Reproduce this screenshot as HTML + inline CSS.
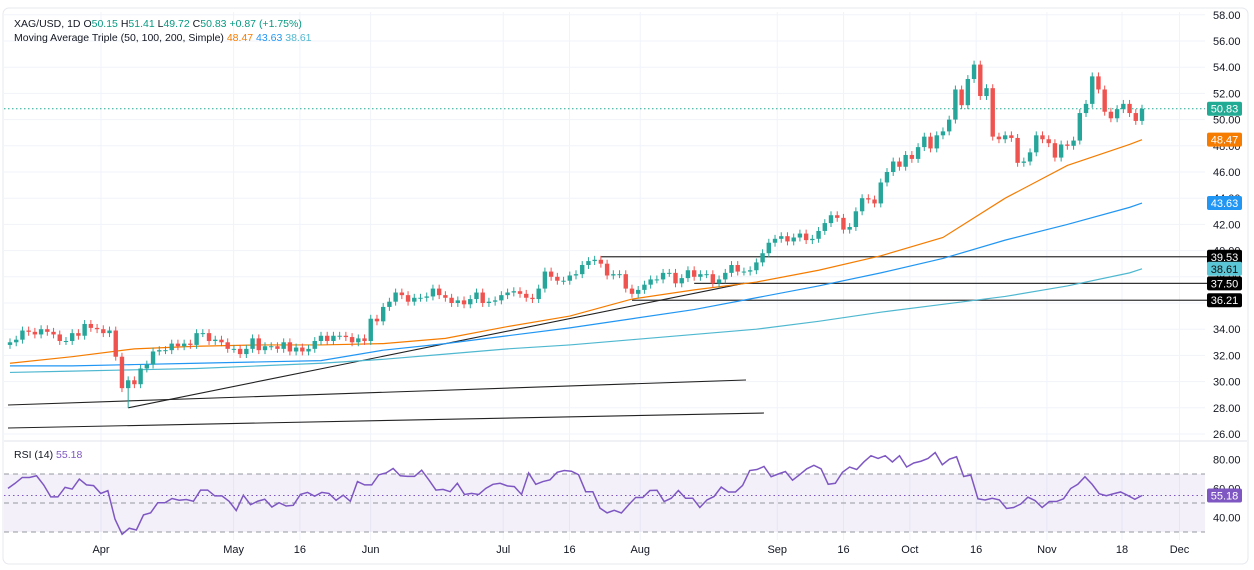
<!DOCTYPE html>
<html><head><meta charset="utf-8"><style>
html,body{margin:0;padding:0;background:#fff;width:1254px;height:570px;overflow:hidden;font-family:"Liberation Sans",sans-serif}
svg text{font-family:"Liberation Sans",sans-serif}
</style></head><body>
<svg id="chart" width="1254" height="570" viewBox="0 0 1254 570" xmlns="http://www.w3.org/2000/svg">
<rect x="3" y="8" width="1245" height="556" rx="6" fill="#fff" stroke="#e6e8ee"/>
<g id="grid"></g>
<g id="rsiBg"></g>
<g id="lines"></g>
<g id="candles"></g>
<g id="rsi"></g>
<g id="axis"></g>
<g id="tags"></g>
<text x="14" y="27" font-size="10.5" fill="#131722">XAG/USD, 1D <tspan fill="#131722">O</tspan><tspan fill="#089981">50.15</tspan> <tspan fill="#131722">H</tspan><tspan fill="#089981">51.41</tspan> <tspan fill="#131722">L</tspan><tspan fill="#089981">49.72</tspan> <tspan fill="#131722">C</tspan><tspan fill="#089981">50.83</tspan> <tspan fill="#089981">+0.87 (+1.75%)</tspan></text>
<text x="14" y="41" font-size="10.5" fill="#131722">Moving Average Triple (50, 100, 200, Simple) <tspan fill="#f57c00">48.47</tspan> <tspan fill="#2196f3">43.63</tspan> <tspan fill="#4fb8d0">38.61</tspan></text>
<text x="14" y="458" font-size="10.5" fill="#131722">RSI (14) <tspan fill="#7e57c2">55.18</tspan></text>
</svg>
<script>
const closes=[33.0,33.2,33.9,33.8,33.6,34.0,33.8,33.6,33.1,33.1,33.7,33.5,34.4,34.1,34.0,33.7,33.9,31.9,29.5,30.1,29.8,31.0,31.3,32.3,32.4,32.4,32.9,32.7,32.9,32.8,33.7,33.7,33.1,33.2,33.0,32.5,32.5,32.1,32.5,33.3,32.4,32.7,32.7,32.5,33.0,32.3,32.6,32.3,32.5,33.1,33.5,33.1,33.5,33.5,33.4,33.0,33.3,33.1,34.8,34.6,
35.7,36.1,36.8,36.6,36.1,36.4,36.4,36.5,37.1,36.6,36.4,36.0,36.2,35.9,36.3,36.8,36.0,36.1,36.2,36.6,36.8,36.9,36.7,36.4,36.3,37.1,38.4,38.0,37.7,37.7,38.1,38.2,38.9,39.2,39.3,39.0,38.1,38.2,38.2,37.1,36.7,37.0,37.4,37.8,37.8,38.3,38.3,37.5,37.9,38.5,38.0,38.2,38.2,37.5,37.8,38.3,38.9,38.4,38.4,38.5,39.1,39.8,40.6,40.9,41.1,40.7,41.0,41.3,40.8,40.9,41.5,42.1,42.7,42.5,41.6,41.8,43.0,44.0,43.9,43.6,45.2,46.0,46.8,46.4,47.3,47.0,47.9,48.7,47.8,48.8,49.1,50.0,52.3,51.1,53.1,54.2,51.8,52.4,48.7,48.5,48.8,48.6,46.7,46.8,47.5,48.8,48.5,48.2,47.1,48.1,48.0,48.4,50.5,51.2,53.3,52.3,50.6,50.1,50.8,51.2,50.5,49.9,50.83];
const firstOpen=32.8;
const ma50=[31.4,31.9,32.5,32.7,32.8,32.8,32.9,33.3,34.2,35.0,36.3,37.0,37.6,38.5,39.6,41.0,44.0,46.5,48.1,48.47];
const ma100=[31.2,31.2,31.3,31.4,31.5,31.6,32.4,32.9,33.5,34.1,34.8,35.5,36.4,37.3,38.3,39.4,40.8,42.0,43.3,43.63];
const ma200=[30.7,30.8,30.9,31.0,31.2,31.4,31.7,32.1,32.5,32.8,33.2,33.6,34.0,34.6,35.3,35.9,36.5,37.3,38.3,38.61];
const maIdx=[0,10,20,30,40,50,60,70,80,90,100,110,120,130,140,150,160,170,180,182];
const rsiVals=[60.1,63.6,67.6,67.6,68.8,62.5,54.2,54.2,60.8,59.6,66.5,62.5,62.0,56.6,58.5,38.9,28.4,32.6,31.4,41.8,43.2,50.2,50.2,53.1,51.9,52.4,51.2,58.9,58.9,54.9,54.9,51.2,44.8,55.4,48.8,51.2,52.6,47.2,50.2,47.9,48.4,55.9,57.3,54.7,57.3,56.6,51.9,55.4,51.2,64.8,62.5,62.5,69.5,70.7,73.8,68.8,68.4,68.4,72.6,66.0,58.9,59.4,57.8,63.6,55.9,56.6,55.9,60.1,62.9,63.6,61.8,61.3,55.9,70.7,62.9,64.8,66.0,71.2,72.4,71.9,69.5,57.8,57.8,46.5,43.2,45.0,43.1,48.6,53.8,53.8,58.6,58.8,51.0,53.3,58.6,53.3,53.3,46.9,52.1,54.5,61.0,57.6,57.6,62.1,72.4,73.1,75.2,68.1,70.0,71.7,65.7,69.5,73.6,76.0,73.6,62.9,63.6,71.2,74.8,73.1,78.3,82.6,80.7,82.6,78.3,82.6,74.8,77.6,78.8,80.7,84.8,76.4,80.2,81.9,68.3,69.3,52.9,52.1,53.3,52.1,46.2,46.9,49.3,54.0,51.7,46.9,51.0,51.0,52.9,60.0,62.9,68.1,62.9,56.4,55.0,56.4,57.6,55.2,52.6,55.18];
const priceTicks=[58,56,54,52,50,48,46,44,42,40,38,36,34,32,30,28,26];
const rsiTicks=[80,60,40];
const dateLabels=["Apr","May","16","Jun","Jul","16","Aug","Sep","16","Oct","16","Nov","18","Dec"];
const dateDays=[0,30,45,61,91,106,122,153,168,183,198,214,231,244];
const hLevels=[39.53,37.50,36.21];
const hStartIdx=[95,110,100];
const trendA=[[19,28.0],[118,37.5]];

const NS="http://www.w3.org/2000/svg";
const X0=10,X1=1142,N=closes.length,STEP=(X1-X0)/(N-1);
const xi=i=>X0+i*STEP;
const yp=v=>41+(56-v)*13.1;
const yr=v=>474+(70-v)*1.45;
const xd=d=>101+d*4.42;
const PR=1205;
function mk(tag,attrs,parent){const e=document.createElementNS(NS,tag);for(const k in attrs)e.setAttribute(k,attrs[k]);document.getElementById(parent).appendChild(e);return e;}

// grid
dateDays.forEach((d,i)=>{const g=mk('line',{x1:xd(d),x2:xd(d),y1:12,y2:540,stroke:'#f0f3fa'},'grid');


const t=mk('text',{x:xd(d),y:553,'font-size':11,fill:'#131722','text-anchor':'middle'},'axis');t.textContent=dateLabels[i];

});
priceTicks.forEach(v=>{const g=mk('line',{x1:4,x2:PR,y1:yp(v),y2:yp(v),stroke:'#f0f3fa'},'grid');


const t=mk('text',{x:1213,y:yp(v)+4,'font-size':11,fill:'#131722'},'axis');t.textContent=v.toFixed(2);

});
const sep=mk('line',{x1:4,x2:1247,y1:441,y2:441,stroke:'#e0e3eb'},'grid');


rsiTicks.forEach(v=>{const t=mk('text',{x:1213,y:yr(v)+4,'font-size':11,fill:'#131722'},'axis');t.textContent=v.toFixed(2);

});

// rsi band
const band=mk('rect',{x:4,y:yr(70),width:PR-4,height:yr(30)-yr(70),fill:'rgba(126,87,194,0.09)'},'rsiBg');


[70,50,30].forEach(v=>{const l=mk('line',{x1:4,x2:PR,y1:yr(v),y2:yr(v),stroke:'#9598a1','stroke-dasharray':'5,4'},'rsiBg');

});
const rl=mk('line',{x1:4,x2:PR,y1:yr(55.18),y2:yr(55.18),stroke:'#7e57c2','stroke-dasharray':'1.5,3'},'rsiBg');



// horizontal levels and trendlines
hLevels.forEach((v,i)=>{const l=mk('line',{x1:xi(hStartIdx[i]),x2:PR+2,y1:yp(v),y2:yp(v),stroke:'#333','stroke-width':1.3},'lines');

});
const tl=mk('line',{x1:xi(trendA[0][0]),y1:yp(trendA[0][1]),x2:xi(trendA[1][0]),y2:yp(trendA[1][1]),stroke:'#222','stroke-width':1.1},'lines');


const t2=mk('line',{x1:8,y1:405,x2:746,y2:380,stroke:'#222','stroke-width':1.1},'lines');


const t3=mk('line',{x1:8,y1:428,x2:764,y2:413,stroke:'#222','stroke-width':1.1},'lines');


const pl=mk('line',{x1:4,x2:PR,y1:yp(50.83),y2:yp(50.83),stroke:'#22ab94','stroke-dasharray':'1.5,2.5'},'lines');



// MAs
[[ma200,'#4fb8d0','ma200-line'],[ma100,'#2196f3','ma100-line'],[ma50,'#f57c00','ma50-line']].forEach(([arr,c,n])=>{
const p=mk('polyline',{points:arr.map((v,k)=>xi(maIdx[k])+','+yp(v)).join(' '),fill:'none',stroke:c,'stroke-width':1.2},'lines');

});

// candles
closes.forEach((c,i)=>{const o=i?closes[i-1]:firstOpen;const up=c>=o;const col=up?'#26a69a':'#ef5350';
let hi=Math.max(o,c)+0.3,lo=Math.min(o,c)-0.3;if(i===19)lo=28.0;
const x=xi(i);
const w=mk('line',{x1:x,x2:x,y1:yp(hi),y2:yp(lo),stroke:col,'stroke-width':1},'candles');


const top=yp(Math.max(o,c)),h=Math.max(1,yp(Math.min(o,c))-top);
const b=mk('rect',{x:x-2.2,y:top,width:4.4,height:h,fill:col},'candles');

});

// RSI
const rs=(1142-8)/(rsiVals.length-1);
const rp=mk('polyline',{points:rsiVals.map((v,i)=>(8+i*rs)+','+yr(v)).join(' '),fill:'none',stroke:'#7e57c2','stroke-width':1.5},'rsi');



// tags
const tags=[[50.83,'#22ab94','#fff',yp,'price-tag'],[48.47,'#f57c00','#fff',yp,'ma50-tag'],[43.63,'#2196f3','#fff',yp,'ma100-tag'],[39.53,'#000','#fff',yp,'level-tag'],[38.61,'#5bc6d6','#111',yp,'ma200-tag'],[37.50,'#000','#fff',yp,'level-tag'],[36.21,'#000','#fff',yp,'level-tag'],[55.18,'#7e57c2','#fff',yr,'rsi-tag']];
tags.forEach(([v,bg,fg,f,n])=>{const y=f(v);
const r=mk('rect',{x:1207,y:y-7,width:35,height:14,rx:2,fill:bg},'tags');


const t=mk('text',{x:1224.5,y:y+4,'font-size':11,fill:fg,'text-anchor':'middle'},'tags');t.textContent=v.toFixed(2);

});
</script>
</body></html>
